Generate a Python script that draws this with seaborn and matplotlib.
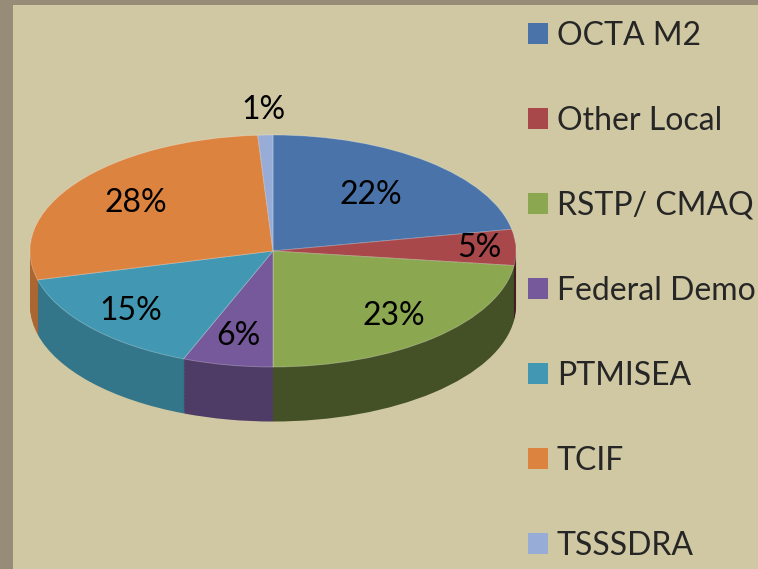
import numpy as np
import matplotlib
matplotlib.use('Agg')
import matplotlib.pyplot as plt
from matplotlib.patches import Patch, Rectangle
import seaborn as sns

# data
labels = ['OCTA M2', 'Other Local', 'RSTP/ CMAQ', 'Federal Demo', 'PTMISEA', 'TCIF', 'TSSSDRA']
shares = [22, 5, 23, 6, 15, 28, 1]
colors = ['#4A74A9', '#A9484A', '#8BA750', '#76599B', '#4298B2', '#DC8340', '#97ACD6']

# radial position of each % label (fraction of radius)
label_r = [0.63, 0.85, 0.75, 0.75, 0.78, 0.7, 1.22]

sns.set_theme(style='white')
plt.rcParams['font.family'] = ['Lato', 'DejaVu Sans']
palette = sns.color_palette(colors)

W, H = 758, 569
bg = '#CFC8A2'
fig = plt.figure(figsize=(W / 100, H / 100), dpi=100, facecolor=bg)

# pie placement (pixels) -> axes box, the axes is stretched so the pie becomes an ellipse
cx, cy, rx, ry = 273, 251, 243, 116
depth = 0.47
xlo, xhi = -1.02, 1.02
ylo, yhi = -1.6, 1.4
ax = fig.add_axes([(cx + xlo * rx) / W, 1 - (cy - ylo * ry) / H,
                   (xhi - xlo) * rx / W, (yhi - ylo) * ry / H])
ax.set_facecolor(bg)

# side wall: stack of darker pies shifted down
fracs = np.array(shares) / sum(shares)
ends = 90 - 360 * np.cumsum(fracs)
mids = ends + 180 * fracs
side_cols = [tuple(np.array(c) * (0.62 - 0.2 * np.cos(np.radians(m)))) for c, m in zip(palette, mids)]
for off in np.linspace(depth, 0.01, 40):
    ax.pie(shares, colors=side_cols, startangle=90, counterclock=False,
           center=(0, -off), wedgeprops=dict(linewidth=0))

# top face
wedges, texts, autotexts = ax.pie(
    shares, colors=palette, startangle=90, counterclock=False,
    autopct=lambda p: f'{p:.0f}%', pctdistance=0.75,
    wedgeprops=dict(linewidth=0.6, edgecolor=(1, 1, 1, 0.3)),
    textprops=dict(fontsize=23, color='black'))

for t, m, r in zip(autotexts, np.radians(mids), label_r):
    t.set_position((r * np.cos(m), r * np.sin(m)))

ax.set_aspect('auto')
ax.set_xlim(xlo, xhi)
ax.set_ylim(ylo, yhi)
ax.axis('off')

# grey frame strips top/left
fig.patches.append(Rectangle((0, 1 - 5 / H), 1, 5 / H, transform=fig.transFigure,
                             facecolor='#968C78', edgecolor='none'))
fig.patches.append(Rectangle((0, 0), 13 / W, 1, transform=fig.transFigure,
                             facecolor='#968C78', edgecolor='none'))

handles = [Patch(facecolor=c, edgecolor='none') for c in palette]
fig.legend(handles, labels, loc='upper left', bbox_to_anchor=(528 / W, 1 - 21 / H),
           bbox_transform=fig.transFigure, frameon=False, fontsize=23,
           handlelength=0.62, handleheight=0.62, handletextpad=0.28,
           labelspacing=1.72, borderpad=0, borderaxespad=0)

fig.savefig('out.png', dpi=100, facecolor=fig.get_facecolor())
